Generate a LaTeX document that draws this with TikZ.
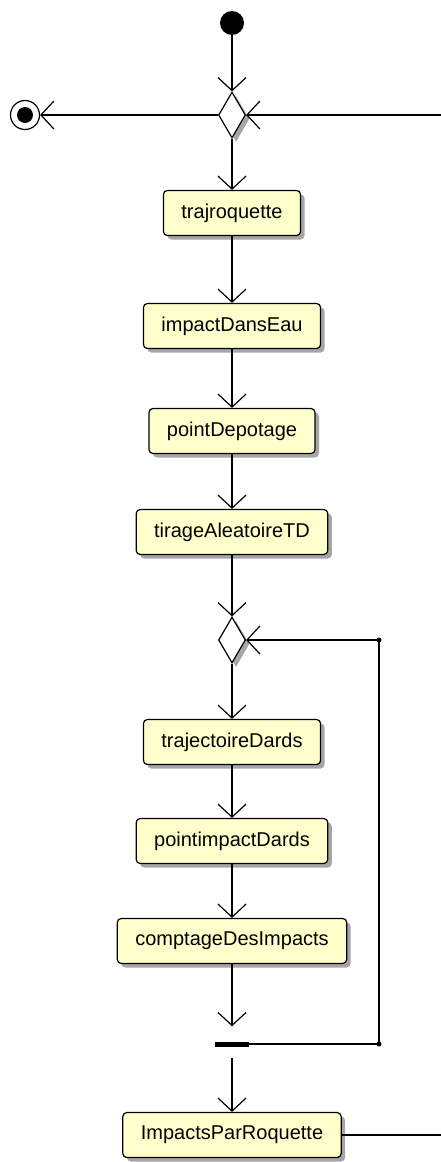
\documentclass[tikz,border=0pt]{standalone}
\usepackage{fontspec}
\setmainfont{Liberation Sans}
\usetikzlibrary{arrows.meta,shapes.geometric,shadows}

\definecolor{actionfill}{RGB}{255,255,204}

\tikzset{
  shade/.style={drop shadow={shadow xshift=4pt,shadow yshift=-4pt,fill=black!35,opacity=1}},
  action/.style={draw,line width=1.2pt,rounded corners=4pt,fill=actionfill,
    minimum height=45pt,inner xsep=18pt,font=\fontsize{20}{24}\selectfont,shade},
  decision/.style={diamond,draw,line width=1.2pt,fill=white,inner sep=0pt,
    minimum width=27pt,minimum height=46pt,shade},
  initial/.style={circle,fill=black,inner sep=0pt,minimum size=24pt},
  final/.style={circle,draw,line width=1.2pt,inner sep=0pt,minimum size=29pt,
    path picture={\fill[black] (path picture bounding box.center) circle (8pt);}},
  joinbar/.style={rectangle,fill=black,inner sep=0pt,minimum width=34pt,minimum height=5pt},
  flow/.style={line width=1.2pt,-{Straight Barb[length=13pt,width=28pt]}},
  wire/.style={line width=1.2pt}
}

\begin{document}
\begin{tikzpicture}[x=1pt,y=-1pt]
\useasboundingbox (0,0) rectangle (441,1162);

\node[initial] (start) at (232,23) {};
\node[decision] (choix) at (232,115) {};
\node[final] (stop) at (25,115) {};
\coordinate (retour) at (441,115);

\node[action] (trajroquette) at (232,213) {trajroquette};
\node[action] (impactDansEau) at (232,326) {impactDansEau};
\node[action] (pointDepotage) at (232,431) {pointDepotage};
\node[action] (tirageAleatoireTD) at (232,532) {tirageAleatoireTD};

\node[decision] (choixDards) at (232,640) {};
\node[action] (trajectoireDards) at (232,742) {trajectoireDards};
\node[action] (pointimpactDards) at (232,841) {pointimpactDards};
\node[action] (comptageDesImpacts) at (232,941) {comptageDesImpacts};
\node[joinbar] (fin) at (232,1044) {};
\coordinate (boucleBas) at (379,1044);
\coordinate (boucleHaut) at (379,640);

\node[action] (ImpactsParRoquette) at (232,1135) {ImpactsParRoquette};
\coordinate (sortie) at (441,1135);

\draw[flow] (start) -- (choix);
\draw[flow] (choix) -- (stop);
\draw[flow] (retour) -- (choix);
\draw[flow] (choix) -- (trajroquette);
\draw[flow] (trajroquette) -- (impactDansEau);
\draw[flow] (impactDansEau) -- (pointDepotage);
\draw[flow] (pointDepotage) -- (tirageAleatoireTD);
\draw[flow] (tirageAleatoireTD) -- (choixDards);
\draw[flow] (choixDards) -- (trajectoireDards);
\draw[flow] (trajectoireDards) -- (pointimpactDards);
\draw[flow] (pointimpactDards) -- (comptageDesImpacts);
\draw[flow,shorten >=15pt] (comptageDesImpacts) -- (fin);
\draw[flow] (fin.east) -- (boucleBas) -- (boucleHaut) -- (choixDards);
\draw[flow,shorten <=11pt] (fin) -- (ImpactsParRoquette);
\draw[wire] (ImpactsParRoquette) -- (sortie);

\fill (boucleBas) circle (2.5pt);
\fill (boucleHaut) circle (2.5pt);
\end{tikzpicture}
\end{document}
